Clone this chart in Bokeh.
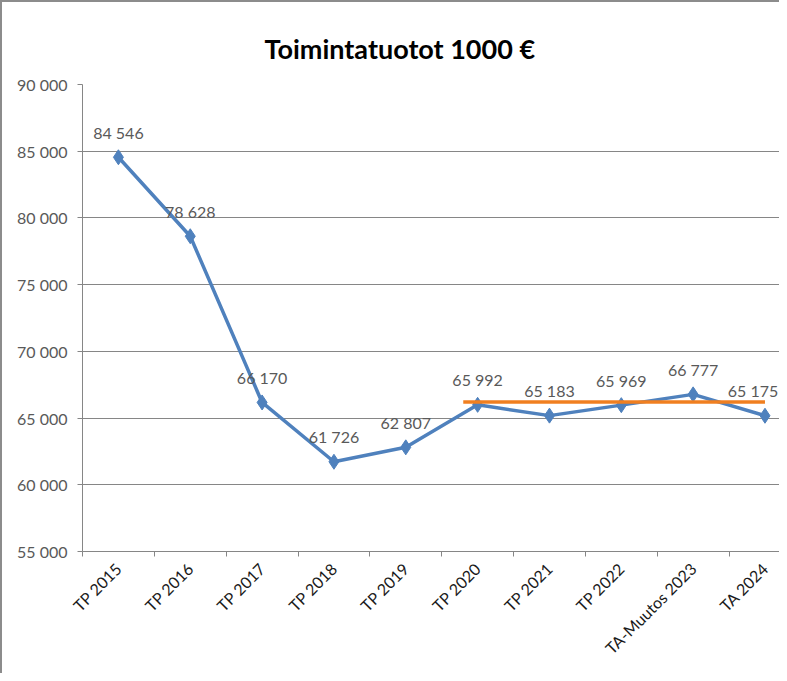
from math import pi
from bokeh.plotting import figure
from bokeh.models import ColumnDataSource, FixedTicker, Range1d
from bokeh.core.properties import value
from bokeh.embed import file_html
from bokeh.resources import INLINE

categories = ["TP 2015", "TP 2016", "TP 2017", "TP 2018", "TP 2019",
              "TP 2020", "TP 2021", "TP 2022", "TA-Muutos 2023", "TA 2024"]
values = [84546, 78628, 66170, 61726, 62807, 65992, 65183, 65969, 66777, 65175]
y_ticks = [55000, 60000, 65000, 70000, 75000, 80000, 85000, 90000]
y_tick_labels = ["55 000", "60 000", "65 000", "70 000", "75 000", "80 000", "85 000", "90 000"]
ref_level = 66200
ref_x = [4.8, 9.0]

FONT = "Lato"

xs = list(range(len(categories)))
labels = [f"{v:,}".replace(",", " ") for v in values]
# keep the last data label inside the visible area
label_dx = [0] * (len(values) - 1) + [-12]
src = ColumnDataSource(dict(x=xs, y=values, lab=labels, dx=label_dx))

p = figure(width=779, height=673, output_backend="svg", toolbar_location=None,
           x_range=Range1d(-0.5, 9.23), y_range=Range1d(55000, 90000),
           min_border_left=80, min_border_right=0, min_border_top=82, min_border_bottom=124,
           title="Toimintatuotot 1000 €")
p.title.text_font = FONT
p.title.text_font_size = "27px"
p.title.text_font_style = "bold"
p.title.text_color = "#000000"
p.title.align = "left"
p.title.vertical_align = "top"
p.title.offset = 182
p.title.standoff = 36
p.outline_line_color = None
p.background_fill_color = "white"
p.border_fill_color = "white"

# y axis
p.yaxis.ticker = FixedTicker(ticks=y_ticks)
p.yaxis.major_label_overrides = {t: l for t, l in zip(y_ticks, y_tick_labels)}
p.yaxis.major_tick_out = 5
p.yaxis.major_tick_in = 0
p.yaxis.minor_tick_out = 0
p.yaxis.minor_tick_in = 0
p.yaxis.axis_line_color = "#868686"
p.yaxis.major_tick_line_color = "#868686"
p.yaxis.major_label_text_font = FONT
p.yaxis.major_label_text_font_size = "16px"
p.yaxis.major_label_text_color = "#595959"
p.yaxis.major_label_standoff = 10

# x axis
p.xaxis.ticker = FixedTicker(ticks=xs, minor_ticks=[i - 0.5 for i in range(len(categories) + 1)])
p.xaxis.major_label_overrides = {i: c for i, c in zip(xs, categories)}
p.xaxis.major_label_orientation = pi / 4
p.xaxis.major_tick_out = 0
p.xaxis.major_tick_in = 0
p.xaxis.minor_tick_out = 5
p.xaxis.minor_tick_in = 0
p.xaxis.minor_tick_line_color = "#868686"
p.xaxis.axis_line_color = "#868686"
p.xaxis.major_label_text_font = FONT
p.xaxis.major_label_text_font_size = "16px"
p.xaxis.major_label_text_color = "#1a1a1a"
p.xaxis.major_label_standoff = 9

p.xgrid.grid_line_color = None
p.ygrid.ticker = FixedTicker(ticks=y_ticks)
p.ygrid.grid_line_color = "#868686"
p.ygrid.grid_line_width = 1

p.line("x", "y", source=src, line_color="#4F81BD", line_width=3.5)
p.scatter("x", "y", source=src, marker="diamond", size=15, color="#4F81BD")
p.line(ref_x, [ref_level, ref_level], line_color="#F07F20", line_width=3.5)

p.text("x", "y", text="lab", source=src, text_font=value(FONT), text_font_size="16px",
       text_color="#595959", text_align="center", text_baseline="middle",
       y_offset=-25, x_offset="dx")

p.styles = {"border-left": "2px solid #8c8c8c", "border-top": "2px solid #8c8c8c"}

open("out.html", "w").write(file_html(p, INLINE))
